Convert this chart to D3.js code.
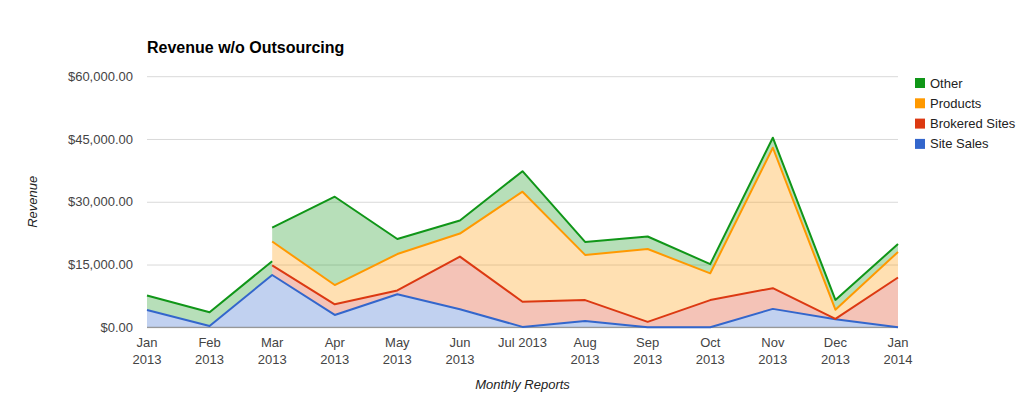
<!DOCTYPE html>
<html>
<head>
<meta charset="utf-8">
<script src="https://cdn.jsdelivr.net/npm/d3@7"></script>
<style>
  body { margin: 0; background: #fff; }
  text { font-family: Arial, "Liberation Sans", sans-serif; }
</style>
</head>
<body>
<div id="chart"></div>
<script>
// chart data
const months = ["Jan 2013","Feb 2013","Mar 2013","Apr 2013","May 2013","Jun 2013","Jul 2013",
                "Aug 2013","Sep 2013","Oct 2013","Nov 2013","Dec 2013","Jan 2014"];
const xLabels = [["Jan","2013"],["Feb","2013"],["Mar","2013"],["Apr","2013"],["May","2013"],["Jun","2013"],
                 ["Jul 2013"],["Aug","2013"],["Sep","2013"],["Oct","2013"],["Nov","2013"],["Dec","2013"],["Jan","2014"]];
const siteSales     = [4150, 300, 12500, 2950, 7900, 4300, 100, 1500, 0, 0, 4400, 1900, 0];
const brokeredSites = [null, null, 2300, 2550, 900, 12600, 6000, 5000, 1300, 6500, 4950, 100, 11900];
const products      = [null, null, 5700, 4600, 8700, 5500, 26300, 10800, 17400, 6400, 33550, 2200, 6100];
const other         = [3450, 3300, 3300, 21100, 3600, 3100, 4900, 3100, 3000, 2200, 2400, 2350, 1900];
const yTicks = [0, 15000, 30000, 45000, 60000];

// stacking order, bottom to top
const series = [
  {key: "Site Sales",     values: siteSales,     color: "#3366cc"},
  {key: "Brokered Sites", values: brokeredSites, color: "#dc3912"},
  {key: "Products",       values: products,      color: "#ff9900"},
  {key: "Other",          values: other,         color: "#109618"}
];
const keys = series.map(function(s) { return s.key });

const width = 1020, height = 398;
const plot = {left: 147, right: 898, top: 76.2, bottom: 327.3};

let svg = d3.select("#chart")
            .append("svg")
            .attr("width", width)
            .attr("height", height);

let x = d3.scaleLinear().domain([0, months.length - 1]).range([plot.left, plot.right]);
let y = d3.scaleLinear().domain([0, 60000]).range([plot.bottom, plot.top]);

//gridlines + y tick labels
let yAxis = svg.append("g")
               .attr("transform", `translate(${plot.left},0)`)
               .call(d3.axisLeft(y)
                       .tickValues(yTicks)
                       .tickFormat(d3.format("$,.2f"))
                       .tickSize(-(plot.right - plot.left))
                       .tickPadding(14));
yAxis.select(".domain").remove();
yAxis.selectAll(".tick line").attr("stroke", "#d9d9d9").attr("stroke-width", 1);
yAxis.selectAll(".tick text")
     .attr("fill", "#444")
     .style("font-size", "13px")
     .style("font-family", "Arial, 'Liberation Sans', sans-serif");

// build rows per segment: a series only counts in a segment where both ends are present
let rows = [];
for (let i = 0; i < months.length - 1; i++) {
  [i, i + 1].forEach(function(j) {
    let row = {idx: j, on: {}};
    series.forEach(function(s) {
      let on = s.values[i] != null && s.values[i + 1] != null;
      row.on[s.key] = on;
      row[s.key] = on ? s.values[j] : 0;
    });
    rows.push(row);
  });
}
let stacked = d3.stack().keys(keys)(rows);

let area = d3.area()
             .x(function(d) { return x(d.data.idx) })
             .y0(function(d) { return y(d[0]) })
             .y1(function(d) { return y(d[1]) });

let line = d3.line()
             .x(function(d) { return x(d.data.idx) })
             .y(function(d) { return y(d[1]) });

// areas
stacked.forEach(function(layer, k) {
  let key = layer.key;
  svg.append("path")
     .datum(layer)
     .attr("fill", series[k].color)
     .attr("fill-opacity", 0.3)
     .attr("stroke", "none")
     .attr("d", area.defined(function(d) { return d.data.on[key] }));
});

// baseline
svg.append("line")
   .attr("x1", plot.left).attr("x2", plot.right)
   .attr("y1", y(0)).attr("y2", y(0))
   .attr("stroke", "#888").attr("stroke-width", 1);

// lines: split into runs so jumps at the same x are not drawn as vertical strokes
stacked.forEach(function(layer, k) {
  let key = layer.key;
  let runs = [], cur = [];
  layer.forEach(function(d, n) {
    let prev = n > 0 ? layer[n - 1] : null;
    let jump = prev && prev.data.idx === d.data.idx && prev[1] !== d[1];
    if (!d.data.on[key] || jump) {
      if (cur.length > 1) runs.push(cur);
      cur = d.data.on[key] ? [d] : [];
    } else {
      cur.push(d);
    }
  });
  if (cur.length > 1) runs.push(cur);
  runs.forEach(function(run) {
    svg.append("path")
       .datum(run)
       .attr("fill", "none")
       .attr("stroke", series[k].color)
       .attr("stroke-width", 2)
       .attr("stroke-linejoin", "round")
       .attr("d", line);
  });
});

// x tick labels
let xTick = svg.append("g").selectAll("text")
               .data(xLabels)
               .enter()
               .append("text")
               .attr("x", function(d, i) { return x(i) })
               .attr("y", 347)
               .attr("text-anchor", "middle")
               .attr("fill", "#444")
               .style("font-size", "13px");
xTick.selectAll("tspan")
     .data(function(d) { return d })
     .enter()
     .append("tspan")
     .attr("x", function() { return d3.select(this.parentNode).attr("x") })
     .attr("dy", function(d, i) { return i === 0 ? 0 : 16.5 })
     .text(function(d) { return d });

// title
svg.append("text")
   .attr("x", plot.left)
   .attr("y", 53)
   .style("font-size", "16px")
   .style("font-weight", "bold")
   .attr("fill", "#000")
   .text("Revenue w/o Outsourcing");

// axis titles
svg.append("text")
   .attr("transform", `translate(36.5,${(plot.top + plot.bottom) / 2}) rotate(-90)`)
   .attr("text-anchor", "middle")
   .style("font-size", "13px")
   .style("font-style", "italic")
   .attr("fill", "#222")
   .text("Revenue");
svg.append("text")
   .attr("x", x(6))
   .attr("y", 389)
   .attr("text-anchor", "middle")
   .style("font-size", "13px")
   .style("font-style", "italic")
   .attr("fill", "#222")
   .text("Monthly Reports");

// legend (top of stack first)
let legend = svg.append("g").selectAll("g")
                .data(series.slice().reverse())
                .enter()
                .append("g")
                .attr("transform", function(d, i) { return `translate(915,${78 + i * 20.3})` });
legend.append("rect")
      .attr("width", 10).attr("height", 10)
      .attr("fill", function(d) { return d.color });
legend.append("text")
      .attr("x", 15)
      .attr("y", 9.5)
      .attr("fill", "#222")
      .style("font-size", "13px")
      .text(function(d) { return d.key });
</script>
</body>
</html>
